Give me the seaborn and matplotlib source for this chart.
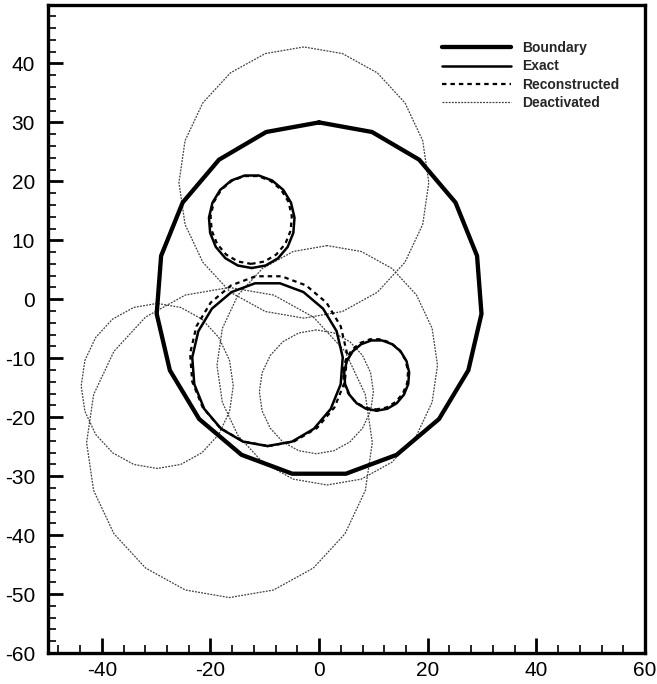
import numpy as np
import pandas as pd
import matplotlib
matplotlib.use("Agg")
import matplotlib.pyplot as plt
import seaborn as sns
from matplotlib.lines import Line2D
from matplotlib.ticker import MultipleLocator

# ---------------- data ----------------
boundary_centers = [(0.0, 0.0)]
boundary_radii = [30.0]

exact_centers = [(-12.4, 13.2), (-9.5, -11.0), (10.6, -12.9)]
exact_radii = [7.9, 13.9, 6.0]

recon_centers = [(-12.5, 13.5), (-9.3, -10.4), (10.4, -12.7)]
recon_radii = [7.5, 14.5, 6.0]

deact_centers = [(-2.8, 19.8), (-29.8, -14.7), (-16.5, -24.3), (1.5, -11.2), (-0.5, -15.7)]
deact_radii = [23.0, 14.0, 26.3, 20.3, 10.5]

legend_labels = ["Boundary", "Exact", "Reconstructed", "Deactivated"]
x_major_ticks = [-40, -20, 0, 20, 40, 60]
y_major_ticks = [-60, -50, -40, -30, -20, -10, 0, 10, 20, 30, 40]
x_limits = (-50, 60)
y_limits = (-60, 50)


def polygon_rows(kind, centers, radii, n_sides, start_deg):
    rows = []
    for i, ((cx, cy), r) in enumerate(zip(centers, radii)):
        t = np.deg2rad(start_deg) + 2 * np.pi * np.arange(n_sides + 1) / n_sides
        for k, a in enumerate(t):
            rows.append({"kind": kind, "shape": f"{kind}{i}", "order": k,
                         "x": cx + r * np.cos(a), "y": cy + r * np.sin(a)})
    return rows


rows = []
rows += polygon_rows("Deactivated", deact_centers, deact_radii, 20, 90)
rows += polygon_rows("Boundary", boundary_centers, boundary_radii, 19, 90)
rows += polygon_rows("Exact", exact_centers, exact_radii, 19, -90)
rows += polygon_rows("Reconstructed", recon_centers, recon_radii, 19, -90)
df = pd.DataFrame(rows)

styles = {
    "Boundary": dict(color="black", linewidth=3.1, linestyle="-"),
    "Exact": dict(color="black", linewidth=1.8, linestyle="-"),
    "Reconstructed": dict(color="black", linewidth=1.6, linestyle=(0, (2.0, 1.8))),
    "Deactivated": dict(color="0.25", linewidth=0.9, linestyle=(0, (1.5, 1.0))),
}

sns.set_theme(style="white")
plt.rcParams["font.family"] = ["Liberation Sans", "DejaVu Sans"]

fig = plt.figure(figsize=(6.57, 6.84), dpi=100)
ax = fig.add_axes([47.5 / 657, 1 - 653 / 684, (645 - 47.5) / 657, (653 - 4.5) / 684])

for kind in ["Deactivated", "Boundary", "Exact", "Reconstructed"]:
    sub = df[df["kind"] == kind]
    sns.lineplot(data=sub, x="x", y="y", units="shape", estimator=None, sort=False,
                 ax=ax, legend=False, **styles[kind])

ax.set_xlim(*x_limits)
ax.set_ylim(*y_limits)
ax.set_xlabel("")
ax.set_ylabel("")
ax.set_xticks(x_major_ticks)
ax.set_xticklabels([str(v) for v in x_major_ticks])
ax.set_yticks(y_major_ticks)
ax.set_yticklabels([str(v) for v in y_major_ticks])
ax.xaxis.set_minor_locator(MultipleLocator(4))
ax.yaxis.set_minor_locator(MultipleLocator(2))
ax.tick_params(which="major", direction="in", length=11, width=2.0, labelsize=15,
               color="black", labelcolor="black", bottom=True, left=True, top=False, right=False)
ax.tick_params(axis="x", which="major", pad=6)
ax.tick_params(axis="y", which="major", pad=9)
ax.tick_params(which="minor", direction="in", length=5.5, width=1.2, color="black",
               bottom=True, left=True, top=False, right=False)
for s in ax.spines.values():
    s.set_visible(True)
    s.set_color("black")
    s.set_linewidth(2.4)
ax.grid(False)
ax.set_facecolor("white")

handles = [Line2D([], [], **styles[k]) for k in legend_labels]
leg = fig.legend(handles, legend_labels, loc="upper left",
                 bbox_to_anchor=(442 / 657, 1 - 41 / 684), frameon=False,
                 prop={"weight": "bold", "size": 10}, handlelength=5.0,
                 handletextpad=0.75, labelspacing=0.32, borderpad=0, borderaxespad=0)

fig.savefig("out.png", dpi=100, facecolor="white")
